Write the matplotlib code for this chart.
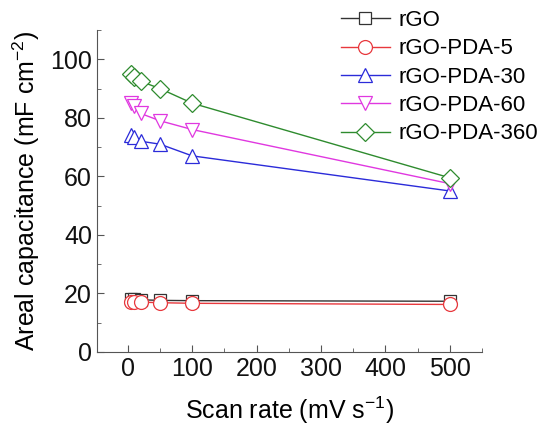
import numpy as np
import matplotlib.pyplot as plt
from matplotlib.ticker import MultipleLocator

plt.rcParams['font.family'] = ['Liberation Sans', 'DejaVu Sans']
plt.rcParams['mathtext.fontset'] = 'custom'
plt.rcParams['mathtext.rm'] = 'Liberation Sans'
plt.rcParams['mathtext.default'] = 'regular'

scan_rate = [5, 10, 20, 50, 100, 500]
rgo = [18.0, 18.0, 17.8, 17.6, 17.5, 17.3]
pda5 = [17.2, 17.0, 17.0, 16.8, 16.6, 16.2]
pda30 = [74.0, 73.5, 72.0, 71.0, 67.0, 55.0]
pda60 = [85.0, 84.0, 81.5, 79.0, 76.0, 57.5]
pda360 = [95.0, 94.0, 92.5, 90.0, 85.0, 59.5]

names = ['rGO', 'rGO-PDA-5', 'rGO-PDA-30', 'rGO-PDA-60', 'rGO-PDA-360']
series = [rgo, pda5, pda30, pda60, pda360]
colors = ['#333333', '#e8383d', '#2b2bd9', '#e038e0', '#2e8b2e']
markers = ['s', 'o', '^', 'v', 'D']
sizes = [8, 10, 9.5, 9.5, 9]

fig = plt.figure(figsize=(5.41, 4.36), dpi=100)
ax = fig.add_axes([0.179, 0.193, 0.712, 0.738])

for y, n, c, m, s in zip(series, names, colors, markers, sizes):
    ax.plot(scan_rate, y, color=c, marker=m, markersize=s, markerfacecolor='white',
            markeredgecolor=c, markeredgewidth=0.9, linewidth=1.0, label=n)

ax.set_xlim(-48, 550)
ax.set_ylim(0, 110)
ax.xaxis.set_major_locator(MultipleLocator(100))
ax.xaxis.set_minor_locator(MultipleLocator(50))
ax.yaxis.set_major_locator(MultipleLocator(20))
ax.yaxis.set_minor_locator(MultipleLocator(10))
ax.set_xticks([0, 100, 200, 300, 400, 500])
ax.spines['top'].set_visible(False)
ax.spines['right'].set_visible(False)
for sp in ['left', 'bottom']:
    ax.spines[sp].set_color('#555555')
ax.tick_params(which='both', direction='in', colors='#555555', labelcolor='#111111', labelsize=18)
ax.tick_params(which='major', length=5)
ax.tick_params(which='minor', length=3)

ax.set_xlabel('Scan rate (mV s$^{-1}$)', fontsize=18, labelpad=10)
ax.set_ylabel('Areal capacitance (mF cm$^{-2}$)', fontsize=18, labelpad=6)

leg = ax.legend(loc='upper left', bbox_to_anchor=(0.61, 1.09), frameon=False, fontsize=16,
                handlelength=2.2, handletextpad=0.4, labelspacing=0.33, borderaxespad=0)

fig.savefig('out.png', dpi=100)
